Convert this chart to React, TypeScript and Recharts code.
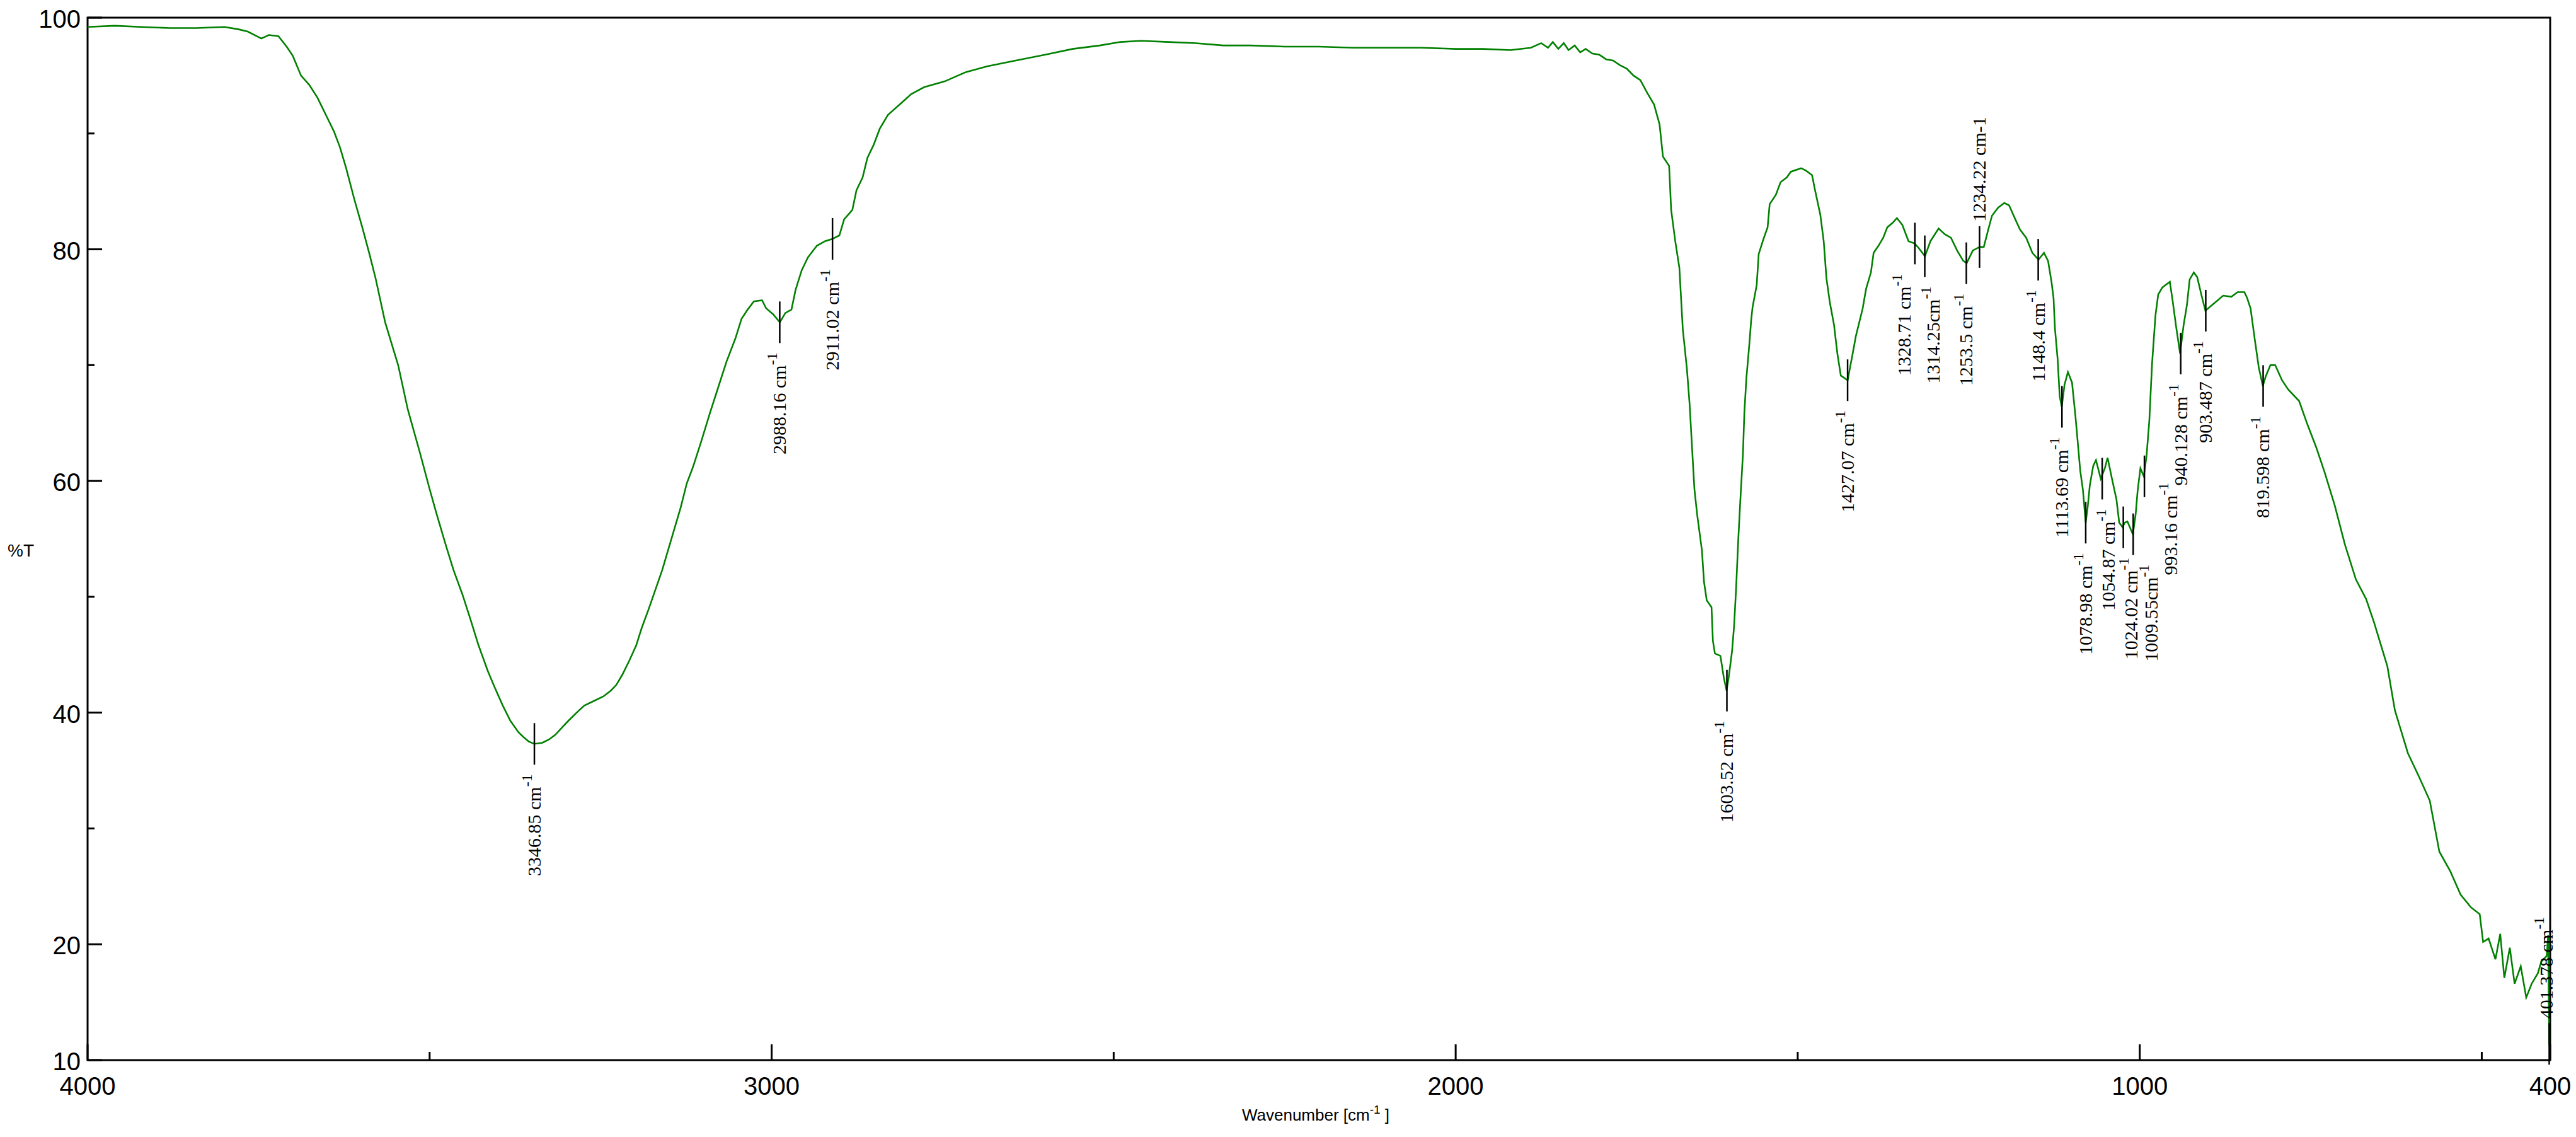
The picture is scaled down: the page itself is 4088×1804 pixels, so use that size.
import React from 'react';
import { ComposedChart, Line, Scatter, XAxis, YAxis, ReferenceArea } from 'recharts';

// FTIR spectrum (wavenumber in cm-1, transmittance in %T)
const wavenumbers = [
  4000, 3960, 3922, 3880, 3841, 3800, 3780, 3766, 3746, 3735, 3721, 3709, 3700, 3688, 3676, 3664,
  3650, 3640, 3631, 3622, 3610, 3598, 3588, 3579, 3565, 3546, 3532, 3514, 3500, 3490, 3476, 3465,
  3452, 3440, 3429, 3415, 3405, 3393, 3382, 3370, 3363, 3355, 3347, 3335, 3325, 3316, 3305, 3297,
  3285, 3274, 3260, 3246, 3235, 3227, 3218, 3208, 3198, 3190, 3180, 3170, 3160, 3152, 3140, 3133,
  3124, 3115, 3103, 3090, 3078, 3066, 3053, 3044, 3035, 3026, 3014, 3008, 2998, 2988, 2980, 2971,
  2965, 2956, 2947, 2934, 2922, 2911, 2901, 2894, 2882, 2876, 2867, 2860, 2851, 2842, 2830, 2811,
  2796, 2777, 2747, 2716, 2685, 2643, 2600, 2560, 2520, 2490, 2460, 2420, 2380, 2340, 2300, 2250,
  2200, 2150, 2100, 2050, 2000, 1960, 1920, 1890, 1875, 1865, 1858, 1850, 1842, 1835, 1826, 1818,
  1810, 1800, 1790, 1780, 1770, 1760, 1750, 1740, 1730, 1720, 1710, 1702, 1697, 1688, 1685, 1679,
  1673, 1668, 1662, 1658, 1654, 1651, 1647, 1640, 1637, 1633, 1626, 1624, 1621, 1613, 1608, 1604,
  1601, 1596, 1593, 1590, 1587, 1584, 1580, 1578, 1575, 1571, 1568, 1566, 1560, 1557, 1550, 1544,
  1541, 1532, 1525, 1516, 1510, 1495, 1488, 1479, 1475, 1467, 1462, 1458, 1453, 1447, 1442, 1437,
  1427, 1419, 1415, 1405, 1400, 1393, 1389, 1382, 1375, 1369, 1361, 1355, 1347, 1338, 1329, 1323,
  1314, 1306, 1294, 1285, 1276, 1267, 1258, 1253, 1244, 1234, 1228, 1221, 1216, 1207, 1198, 1191,
  1182, 1175, 1166, 1157, 1148, 1140, 1134, 1129, 1126, 1124, 1120, 1117, 1114, 1110, 1105, 1099,
  1094, 1091, 1087, 1083, 1079, 1076, 1073, 1068, 1064, 1057, 1051, 1047, 1041, 1034, 1030, 1025,
  1022, 1018, 1010, 1006, 1003, 999, 994, 990, 986, 982, 977, 973, 967, 956, 952, 947,
  941, 936, 931, 927, 921, 916, 910, 904, 894, 878, 866, 857, 847, 843, 838, 832,
  826, 820, 816, 809, 802, 792, 783, 767, 755, 742, 730, 715, 700, 684, 669, 657,
  638, 627, 608, 592, 576, 562, 546, 531, 516, 503, 498, 490, 480, 473, 467, 459,
  452, 443, 435, 427, 418, 413, 405, 403, 401.4, 400,
];

const transmittance = [
  99.2, 99.3, 99.2, 99.1, 99.1, 99.2, 99.0, 98.8, 98.2, 98.5, 98.4, 97.5, 96.7, 95.0, 94.2, 93.1,
  91.4, 90.2, 88.8, 87.0, 84.3, 81.8, 79.6, 77.5, 73.7, 70.0, 66.2, 62.4, 59.3, 57.2, 54.4, 52.3,
  50.2, 48.0, 45.9, 43.6, 42.2, 40.6, 39.3, 38.3, 37.9, 37.5, 37.3, 37.4, 37.7, 38.1, 38.8, 39.3,
  40.0, 40.6, 41.0, 41.4, 41.9, 42.4, 43.3, 44.5, 45.8, 47.3, 48.9, 50.6, 52.3, 53.9, 56.3, 57.7,
  59.8, 61.2, 63.4, 65.9, 68.1, 70.3, 72.3, 74.0, 74.8, 75.5, 75.6, 74.9, 74.4, 73.7, 74.5, 74.8,
  76.5, 78.2, 79.3, 80.3, 80.7, 80.9, 81.2, 82.6, 83.4, 85.1, 86.2, 87.9, 89.0, 90.4, 91.6, 92.6,
  93.4, 94.0, 94.5, 95.3, 95.8, 96.3, 96.8, 97.3, 97.6, 97.9, 98.0, 97.9, 97.8, 97.6, 97.6, 97.5,
  97.5, 97.4, 97.4, 97.4, 97.3, 97.3, 97.2, 97.4, 97.8, 97.4, 97.9, 97.3, 97.8, 97.2, 97.6, 97.0,
  97.3, 96.9, 96.8, 96.4, 96.3, 95.9, 95.6, 95.0, 94.6, 93.5, 92.5, 90.8, 88.0, 87.2, 83.4, 80.7,
  78.4, 73.1, 69.7, 66.6, 62.4, 59.3, 57.1, 54.0, 51.3, 49.7, 49.1, 46.2, 45.1, 44.9, 43.0, 41.9,
  43.0, 45.3, 47.5, 50.8, 54.8, 58.2, 62.4, 65.9, 68.9, 71.6, 73.9, 75.0, 76.9, 79.6, 80.9, 81.9,
  83.9, 84.7, 85.8, 86.2, 86.7, 87.0, 86.8, 86.4, 85.2, 83.0, 80.7, 77.5, 75.4, 73.5, 71.0, 69.1,
  68.7, 71.2, 72.5, 74.9, 76.6, 78.0, 79.7, 80.3, 81.0, 81.9, 82.3, 82.7, 82.1, 80.7, 80.5, 80.1,
  79.4, 80.7, 81.8, 81.3, 81.0, 79.9, 79.0, 78.8, 79.9, 80.2, 80.2, 81.8, 82.9, 83.6, 84.0, 83.8,
  82.6, 81.7, 81.0, 79.7, 79.1, 79.7, 79.0, 77.2, 75.8, 73.2, 70.5, 67.3, 66.4, 68.3, 69.4, 68.5,
  65.6, 63.6, 60.9, 59.2, 56.4, 57.8, 59.6, 61.3, 61.8, 60.2, 61.1, 62.0, 60.3, 58.4, 56.4, 56.0,
  56.4, 56.5, 55.4, 57.1, 59.2, 61.1, 60.4, 62.2, 65.2, 70.1, 74.3, 76.1, 76.7, 77.2, 75.6, 73.4,
  71.0, 73.4, 75.2, 77.4, 78.0, 77.6, 76.1, 74.7, 75.2, 76.0, 75.9, 76.3, 76.3, 75.8, 74.9, 72.3,
  69.8, 68.2, 69.0, 70.0, 70.0, 68.7, 67.9, 66.9, 64.9, 62.9, 60.8, 57.9, 54.5, 51.5, 49.8, 47.7,
  44.0, 40.2, 36.5, 34.5, 32.4, 28.0, 26.3, 24.3, 23.2, 22.6, 20.2, 20.5, 18.7, 20.9, 17.1, 19.7,
  16.6, 18.1, 15.4, 16.6, 17.5, 18.5, 19.0, 20.8, 11.4, 11.0,
];

// picked peaks
const peakWavenumbers = [
  3346.85, 2988.16, 2911.02, 1603.52, 1427.07, 1328.71, 1314.25, 1253.5, 1234.22, 1148.4,
  1113.69, 1078.98, 1054.87, 1024.02, 1009.55, 993.16, 940.128, 903.487, 819.598, 401.378,
];
const peakTransmittance = [
  37.3, 73.7, 80.9, 41.9, 68.7, 80.5, 79.4, 78.8, 80.2, 79.1,
  66.4, 56.4, 60.2, 56.0, 55.4, 60.4, 71.0, 74.7, 68.2, 11.4,
];
const peakLabels = [
  '3346.85 cm', '2988.16 cm', '2911.02 cm', '1603.52 cm', '1427.07 cm', '1328.71 cm', '1314.25cm',
  '1253.5 cm', '1234.22 cm-1', '1148.4 cm', '1113.69 cm', '1078.98 cm', '1054.87 cm', '1024.02 cm',
  '1009.55cm', '993.16 cm', '940.128 cm', '903.487 cm', '819.598 cm', '401.378 cm',
];

const xTicks = [4000, 3500, 3000, 2500, 2000, 1500, 1000, 500, 400];
const xTickLabels = ['4000', '', '3000', '', '2000', '', '1000', '', '400'];
const yTicks = [10, 20, 30, 40, 50, 60, 70, 80, 90, 100];
const yTickLabels = ['10', '20', '', '40', '', '60', '', '80', '', '100'];

const spectrum = wavenumbers.map((wn, i) => ({ wn, t: transmittance[i] }));
const peaks = peakWavenumbers.map((wn, i) => ({ wn, t: peakTransmittance[i], label: peakLabels[i] }));

// labels the instrument software pushed aside to avoid overlaps (screen px)
const labelNudge: Record<string, [number, number]> = {
  '1328.71 cm': [-17, 0],
  '1314.25cm': [13, 0],
  '1054.87 cm': [10, 0],
  '1024.02 cm': [12, 0],
  '1009.55cm': [29, 0],
  '993.16 cm': [42, -38],
  '401.378 cm': [-4, 0],
};
const labelsAbove = new Set(['1234.22 cm-1', '401.378 cm']);

const TICK_FONT = '"Liberation Sans Narrow", "Arial Narrow", "Liberation Sans", Arial, sans-serif';
const PEAK_FONT = '"Liberation Serif", "Times New Roman", serif';

const XTick = (props: any) => {
  const { x, y, payload } = props;
  const i = xTicks.indexOf(payload.value);
  const text = i >= 0 ? xTickLabels[i] : '';
  const len = text ? 25 : 13;
  return (
    <g>
      <line x1={x} x2={x} y1={y} y2={y - len} stroke="#000" strokeWidth={3} />
      {text && (
        <text x={x} y={y + 55} textAnchor="middle" fontSize={40} fontFamily={TICK_FONT} fill="#000">
          {text}
        </text>
      )}
    </g>
  );
};

const YTick = (props: any) => {
  const { x, y, payload } = props;
  const i = yTicks.indexOf(payload.value);
  const text = i >= 0 ? yTickLabels[i] : '';
  const len = text ? 23 : 11;
  return (
    <g>
      <line x1={x} x2={x + len} y1={y} y2={y} stroke="#000" strokeWidth={3} />
      {text && (
        <text x={x - 11} y={y + 16} textAnchor="end" fontSize={40} fontFamily={TICK_FONT} fill="#000">
          {text}
        </text>
      )}
    </g>
  );
};

const PeakMarker = (props: any) => {
  const { cx, cy, payload } = props;
  if (cx == null || cy == null) return null;
  const label: string = payload.label;
  const [dx, dy] = labelNudge[label] || [0, 0];
  const above = labelsAbove.has(label);
  const ax = cx + 10 + dx;
  const ay = above ? cy - 40 : cy + 48 + dy;
  const inlineSup = label.endsWith('-1');
  return (
    <g>
      <line x1={cx} x2={cx} y1={cy - 33} y2={cy + 33} stroke="#000" strokeWidth={2.5} />
      <text
        x={ax}
        y={ay}
        transform={`rotate(-90 ${ax} ${ay})`}
        textAnchor={above ? 'start' : 'end'}
        fontSize={30}
        fontFamily={PEAK_FONT}
        fill="#000"
      >
        {label}
        {!inlineSup && (
          <tspan dy={-14} fontSize={24}>
            -1
          </tspan>
        )}
      </text>
    </g>
  );
};

const XTitle = (props: any) => {
  const vb = props.viewBox;
  return (
    <text
      x={vb.x + vb.width / 2 - 5}
      y={vb.y + 96}
      textAnchor="middle"
      fontSize={26}
      fontFamily='"Liberation Sans", Arial, sans-serif'
      fill="#000"
    >
      Wavenumber [cm
      <tspan dy={-11} fontSize={19}>-1</tspan>
      <tspan dy={11}> ]</tspan>
    </text>
  );
};

const YTitle = (props: any) => {
  const vb = props.viewBox;
  return (
    <text
      x={12}
      y={vb.y + vb.height / 2 + 28}
      fontSize={28}
      fontFamily={TICK_FONT}
      fill="#000"
    >
      %T
    </text>
  );
};

export default function App() {
  return (
    <div style={{ width: 4088, height: 1804, background: '#fff' }}>
      <style>{'body{margin:0;background:#fff}'}</style>
      <ComposedChart
        width={4088}
        height={1804}
        data={spectrum}
        margin={{ top: 28, right: 41, bottom: 0, left: 0 }}
      >
        <XAxis
          type="number"
          dataKey="wn"
          domain={[400, 4000]}
          reversed
          ticks={xTicks}
          interval={0}
          tickSize={0}
          tickMargin={0}
          tickLine={false}
          axisLine={false}
          tick={<XTick />}
          height={122}
          label={<XTitle />}
        />
        <YAxis
          type="number"
          dataKey="t"
          domain={[10, 100]}
          ticks={yTicks}
          interval={0}
          tickSize={0}
          tickMargin={0}
          tickLine={false}
          axisLine={false}
          tick={<YTick />}
          width={139}
          label={<YTitle />}
        />
        <Line
          type="linear"
          dataKey="t"
          stroke="#008000"
          strokeWidth={2.6}
          dot={false}
          activeDot={false}
          isAnimationActive={false}
        />
        <Scatter data={peaks} dataKey="t" shape={<PeakMarker />} isAnimationActive={false} />
        <ReferenceArea
          x1={4000}
          x2={400}
          y1={10}
          y2={100}
          fill="none"
          fillOpacity={0}
          stroke="#000"
          strokeWidth={3}
        />
      </ComposedChart>
    </div>
  );
}
